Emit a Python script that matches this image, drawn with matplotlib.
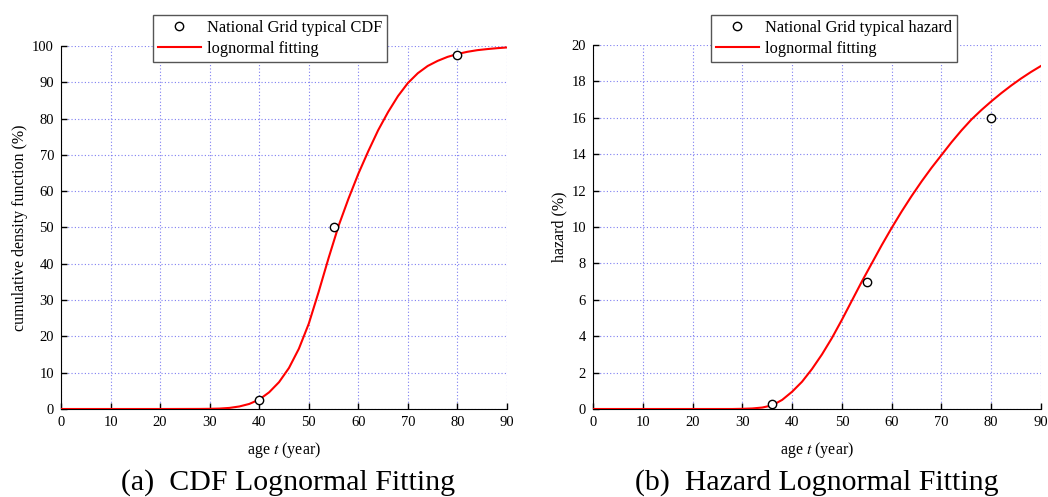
import matplotlib
matplotlib.use("Agg")
from matplotlib import pyplot as plt

plt.rcParams['font.family'] = ['Liberation Serif', 'DejaVu Serif']
plt.rcParams['mathtext.fontset'] = 'stix'

# National Grid data points
cdf_age = [40, 55, 80]
cdf_val = [2.5, 50, 97.5]
haz_age = [36, 55, 80]
haz_val = [0.3, 7, 16]

# lognormal fitting curves
fit_age = [0, 20, 28, 30, 32, 34, 36, 38, 40, 42, 44, 46, 48, 50, 52, 54, 56, 58,
           60, 62, 64, 66, 68, 70, 72, 74, 76, 78, 80, 82, 84, 86, 88, 90]
cdf_fit = [0, 0, 0.02, 0.05, 0.12, 0.3, 0.7, 1.4, 2.6, 4.6, 7.4, 11.3, 16.6, 23.5,
           32.3, 41.6, 50.4, 57.9, 64.8, 71.0, 76.8, 81.8, 86.2, 89.8, 92.5, 94.5,
           95.9, 97.0, 97.8, 98.4, 98.85, 99.15, 99.4, 99.6]
haz_fit = [0, 0, 0, 0.01, 0.03, 0.08, 0.2, 0.5, 0.95, 1.5, 2.2, 3.0, 3.9, 4.9,
           5.95, 7.0, 8.0, 9.0, 9.95, 10.85, 11.7, 12.5, 13.25, 13.95, 14.65, 15.3,
           15.9, 16.42, 16.9, 17.35, 17.77, 18.16, 18.52, 18.85]

fig = plt.figure(figsize=(10.48, 4.97), dpi=100)
ax1 = fig.add_axes([61/1048, 88/497, 446/1048, 363/497])
ax2 = fig.add_axes([593/1048, 88/497, 448/1048, 364/497])


def style(ax, ymax, ystep):
    ax.set_xlim(0, 90)
    ax.set_ylim(0, ymax)
    ax.set_xticks(range(0, 91, 10))
    ax.set_yticks(range(0, ymax + 1, ystep))
    ax.spines['top'].set_visible(False)
    ax.spines['right'].set_visible(False)
    ax.tick_params(direction='in', length=4, width=1, labelsize=10.5, pad=5)
    ax.grid(True, color='#7070f0', linestyle=(0, (1, 2)), linewidth=0.8, alpha=0.9)
    ax.set_axisbelow(True)
    ax.set_xlabel('age $t$ (year)', fontsize=11.5, labelpad=8)


ax1.plot(cdf_age, cdf_val, 'o', mfc='white', mec='black', ms=6, mew=1,
         label='National Grid typical CDF', zorder=4)
ax1.plot(fit_age, cdf_fit, color='red', lw=1.5, label='lognormal fitting', zorder=3)
style(ax1, 100, 10)
ax1.set_ylabel('cumulative density function (%)', fontsize=11.5, labelpad=3)

ax2.plot(haz_age, haz_val, 'o', mfc='white', mec='black', ms=6, mew=1,
         label='National Grid typical hazard', zorder=4)
ax2.plot(fit_age, haz_fit, color='red', lw=1.5, label='lognormal fitting', zorder=3)
style(ax2, 20, 2)
ax2.set_ylabel('hazard (%)', fontsize=11.5, labelpad=3)

for ax, anchor in [(ax1, (153/1048, 1 - 15/497)), (ax2, (711/1048, 1 - 15/497))]:
    leg = ax.legend(loc='upper left', bbox_to_anchor=anchor, bbox_transform=fig.transFigure,
                    fontsize=11.8, frameon=True, fancybox=False, framealpha=1,
                    edgecolor='#555555', borderpad=0.3, labelspacing=0.3,
                    handlelength=2.6, handletextpad=0.4, borderaxespad=0)
    leg.get_frame().set_linewidth(1.0)

fig.text(0.2748, 0.014, '(a)  CDF Lognormal Fitting', ha='center', va='baseline', fontsize=21.5)
fig.text(0.779, 0.014, '(b)  Hazard Lognormal Fitting', ha='center', va='baseline', fontsize=21.5)

fig.savefig('out.png', dpi=100)
